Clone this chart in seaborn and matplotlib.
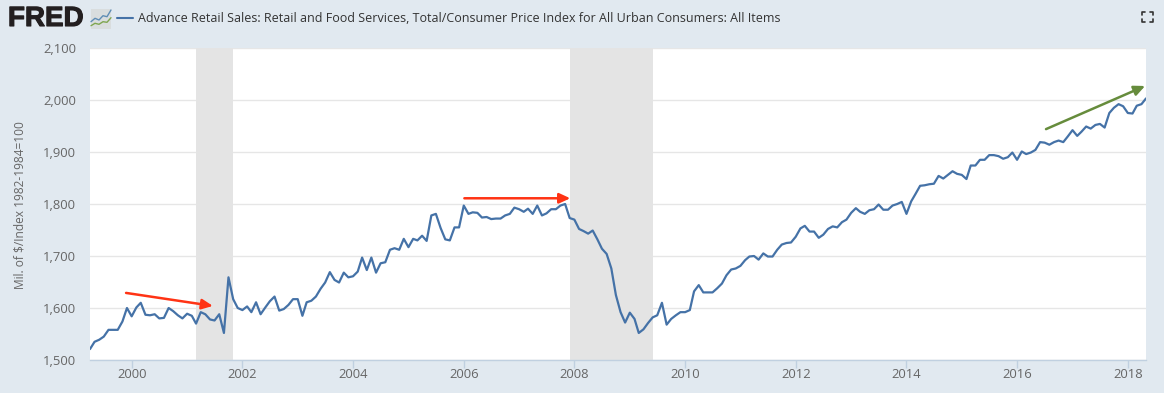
import pandas as pd
import numpy as np
import matplotlib
matplotlib.use('Agg')
import matplotlib.pyplot as plt
import matplotlib.dates as mdates
import matplotlib.patheffects as pe
import seaborn as sns
from matplotlib.lines import Line2D
from matplotlib.patches import FancyBboxPatch

# monthly values from Apr 1999
retail_99_03 = [1521, 1535, 1539, 1545, 1558, 1558, 1558, 1574, 1600, 1584, 1601, 1610, 1587, 1586, 1588, 1580,
                1581, 1600, 1594, 1586, 1580, 1589, 1585, 1570, 1592, 1588, 1578, 1576, 1588, 1552, 1659, 1617,
                1600, 1596, 1603, 1592, 1611, 1588, 1601, 1613, 1622, 1595, 1598, 1606, 1617, 1617, 1585, 1611]
retail_03_07 = [1614, 1622, 1637, 1649, 1669, 1654, 1649, 1668, 1659, 1661, 1670, 1697, 1673, 1697, 1668, 1686,
                1688, 1712, 1715, 1712, 1733, 1717, 1733, 1730, 1739, 1729, 1778, 1781, 1754, 1732, 1730, 1755,
                1755, 1797, 1781, 1784, 1783, 1774, 1775, 1771, 1772, 1772, 1778, 1781, 1793, 1790, 1785, 1791,
                1781, 1797, 1778, 1782, 1790, 1790, 1797, 1800]
retail_07_11 = [1773, 1770, 1752, 1748, 1743, 1749, 1732, 1714, 1704, 1676, 1625, 1592, 1572, 1591, 1579, 1552,
                1559, 1571, 1582, 1586, 1610, 1568, 1579, 1586, 1592, 1592, 1596, 1632, 1644, 1630, 1630, 1630,
                1638, 1647, 1663, 1674, 1676, 1681, 1692, 1699, 1700, 1693, 1705, 1699, 1699, 1712, 1722, 1725]
retail_11_18 = [1726, 1737, 1753, 1758, 1747, 1747, 1735, 1741, 1752, 1757, 1755, 1765, 1770, 1783, 1792, 1785,
                1781, 1788, 1790, 1799, 1789, 1789, 1797, 1800, 1804, 1781, 1805, 1819, 1835, 1836, 1838, 1839,
                1854, 1849, 1856, 1863, 1858, 1856, 1848, 1874, 1874, 1885, 1885, 1894, 1894, 1892, 1887, 1890,
                1899, 1885, 1901, 1896, 1899, 1904, 1919, 1918, 1914, 1919, 1922, 1919, 1930, 1942, 1931, 1939,
                1949, 1945, 1952, 1954, 1947, 1975, 1985, 1992, 1988, 1975, 1974, 1989, 1992, 2003]
retail_values = retail_99_03 + retail_03_07 + retail_07_11 + retail_11_18

recessions = [('2001-03-01', '2001-11-01'), ('2007-12-01', '2009-06-01')]
y_ticks = [1500, 1600, 1700, 1800, 1900, 2000, 2100]
x_tick_years = [2000, 2002, 2004, 2006, 2008, 2010, 2012, 2014, 2016, 2018]

# hand drawn arrows on the original: colour, start, end
arrows = [('#FF3314', '1999-11-25', 1629, '2001-06-20', 1604),
          ('#FF3314', '2006-01-05', 1811, '2007-12-05', 1811),
          ('#668C3C', '2016-07-10', 1944, '2018-04-25', 2027)]

series_title = 'Advance Retail Sales: Retail and Food Services, Total/Consumer Price Index for All Urban Consumers: All Items'

BG = '#E1E9F0'
LINE = '#4572A7'
TEXT = '#666666'

sns.set_theme(style='white')
plt.rcParams['font.family'] = ['Open Sans', 'DejaVu Sans']

df = pd.DataFrame({'date': pd.date_range('1999-04-01', periods=len(retail_values), freq='MS'),
                   'value': retail_values})

W, H = 1164, 393
fig = plt.figure(figsize=(W / 100, H / 100), dpi=100, facecolor=BG)
ax = fig.add_axes([90 / W, 1 - 360 / H, 1056 / W, 312 / H], facecolor='white')

for start, end in recessions:
    ax.axvspan(pd.Timestamp(start), pd.Timestamp(end), color='#E4E4E4', lw=0, zorder=1)

sns.lineplot(data=df, x='date', y='value', ax=ax, color=LINE, lw=1.6, zorder=3, legend=False)

ax.set_xlim(df['date'].iloc[0], df['date'].iloc[-1])
ax.set_ylim(1500, 2100)
ax.set_xticks([pd.Timestamp(year=y, month=1, day=1) for y in x_tick_years])
ax.xaxis.set_major_formatter(mdates.DateFormatter('%Y'))
ax.set_yticks(y_ticks)
ax.set_yticklabels(['{:,}'.format(v) for v in y_ticks])
ax.set_axisbelow(True)
ax.grid(axis='y', color='#E6E6E6', lw=1)
ax.tick_params(axis='x', length=6, width=1, color='#C0D0E0', labelsize=9.4, labelcolor=TEXT, pad=0, direction='out', bottom=True)
ax.tick_params(axis='y', length=0, labelsize=9.4, labelcolor=TEXT, pad=10)
ax.set_xlabel('')
ax.set_ylabel('')
for side in ['top', 'left', 'right']:
    ax.spines[side].set_visible(False)
ax.spines['bottom'].set_color('#C0D0E0')
ax.spines['bottom'].set_linewidth(1)

for color, x0, y0, x1, y1 in arrows:
    ax.annotate('', xy=(pd.Timestamp(x1), y1), xytext=(pd.Timestamp(x0), y0), annotation_clip=False, zorder=5,
                arrowprops=dict(arrowstyle='-|>,head_length=0.65,head_width=0.3', color=color, lw=1.8,
                                shrinkA=0, shrinkB=0, mutation_scale=10))

# y label and header
fig.text(20.5 / W, 1 - 205 / H, 'Mil. of $/Index 1982-1984=100', rotation=90, va='center', ha='center',
         fontsize=8.6, color=TEXT)
fig.text(8 / W, 1 - 19 / H, 'FRED', fontsize=20, fontweight='bold', color='#231F20', va='center', ha='left',
         family=['Liberation Sans', 'DejaVu Sans'],
         path_effects=[pe.withStroke(linewidth=0.8, foreground='#231F20')])
fig.add_artist(Line2D([117 / W, 133 / W], [1 - 18 / H, 1 - 18 / H], color=LINE, lw=1.5))
fig.text(138 / W, 1 - 18.5 / H, series_title, fontsize=9.0, color='#333333', va='center', ha='left')

# small logo chart next to the FRED text
fig.add_artist(FancyBboxPatch((91 / W, 1 - 28.5 / H), 20 / W, 19 / H, boxstyle='square,pad=0', fc='#D9DDDE', ec='none',
                              transform=fig.transFigure))
logo_x = np.array([91, 95, 99, 103, 107, 111])
fig.add_artist(Line2D(logo_x / W, 1 - np.array([21.7, 18.3, 20, 15.7, 16.7, 10]) / H, color='#5F8DB5', lw=1))
fig.add_artist(Line2D(logo_x / W, 1 - np.array([25.7, 23.3, 24.3, 21.7, 22.3, 17.7]) / H, color='#7FA650', lw=1))

# fullscreen icon
for cx, cy, dx, dy in [(1142, 12, 1, 1), (1153, 12, -1, 1), (1142, 22, 1, -1), (1153, 22, -1, -1)]:
    fig.add_artist(Line2D([cx / W, cx / W, (cx + 3 * dx) / W], [1 - (cy + 3 * dy) / H, 1 - cy / H, 1 - cy / H],
                          color='#333333', lw=1.2))

fig.savefig('out.png', dpi=100, facecolor=BG)
